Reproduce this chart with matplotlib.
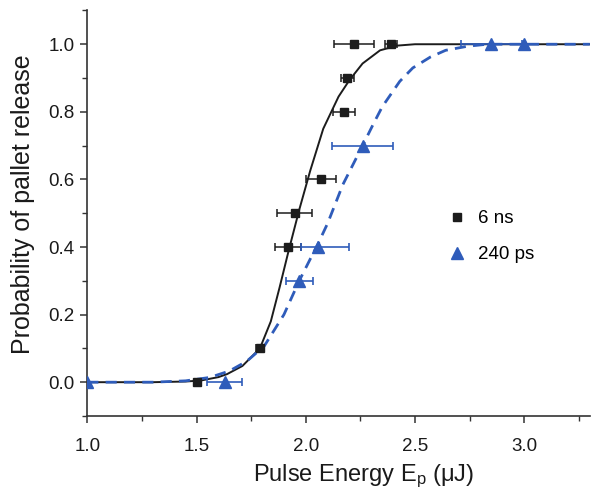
import matplotlib
matplotlib.use("Agg")
import matplotlib.pyplot as plt
from matplotlib.lines import Line2D
from matplotlib.ticker import MultipleLocator

plt.rcParams['font.family'] = ['Liberation Sans', 'DejaVu Sans']
plt.rcParams['mathtext.fontset'] = 'custom'
plt.rcParams['mathtext.rm'] = 'Liberation Sans'
plt.rcParams['mathtext.default'] = 'regular'

# ---- data: 6 ns pulses (squares) ----
ns_energy = [1.50, 1.79, 1.92, 1.95, 2.07, 2.175, 2.19, 2.22, 2.39]
ns_prob   = [0.0, 0.1, 0.4, 0.5, 0.6, 0.8, 0.9, 1.0, 1.0]
ns_err    = [0.0, 0.02, 0.06, 0.08, 0.07, 0.05, 0.03, 0.09, 0.027]

# ---- data: 240 ps pulses (triangles) ----
ps_energy = [1.00, 1.63, 1.97, 2.056, 2.26, 2.85, 3.00]
ps_prob   = [0.0, 0.0, 0.3, 0.4, 0.7, 1.0, 1.0]
ps_err_lo = [0.0, 0.08, 0.062, 0.076, 0.14, 0.14, 0.0]
ps_err_hi = [0.0, 0.08, 0.062, 0.142, 0.14, 0.14, 0.0]

# ---- fitted curves ----
fit_ns_energy = [1.00, 1.30, 1.45, 1.52, 1.60, 1.64, 1.71, 1.79, 1.84, 1.88,
                 1.92, 1.97, 2.02, 2.08, 2.15, 2.20, 2.26, 2.34, 2.42, 2.50, 2.70, 3.30]
fit_ns_prob   = [0.0, 0.0, 0.002, 0.005, 0.015, 0.024, 0.048, 0.10, 0.18, 0.28,
                 0.385, 0.51, 0.625, 0.75, 0.845, 0.894, 0.943, 0.982, 0.996, 1.0, 1.0, 1.0]

fit_ps_energy = [1.00, 1.30, 1.45, 1.56, 1.65, 1.73, 1.81, 1.90, 1.97, 2.06, 2.10,
                 2.17, 2.26, 2.31, 2.35, 2.43, 2.49, 2.57, 2.64, 2.74, 2.83, 3.30]
fit_ps_prob   = [0.0, 0.0, 0.004, 0.014, 0.033, 0.062, 0.107, 0.20, 0.30, 0.415, 0.47,
                 0.585, 0.70, 0.765, 0.815, 0.89, 0.93, 0.962, 0.982, 0.994, 1.0, 1.0]

labels = ['6 ns', '240 ps']
black = '#1c1c1c'
blue = '#2f5cba'

fig = plt.figure(figsize=(6.0, 4.97), dpi=100)
ax = fig.add_axes([0.1455, 0.163, 0.983 - 0.1455, 0.979 - 0.163])

ax.plot(fit_ns_energy, fit_ns_prob, color=black, lw=1.4, zorder=2)
ax.plot(fit_ps_energy, fit_ps_prob, color=blue, lw=2.0, ls=(0, (4, 2.6)), zorder=2)

ax.errorbar(ns_energy, ns_prob, xerr=ns_err, fmt='s', color=black, ms=6,
            ecolor=black, elinewidth=1.1, capsize=3, capthick=1.1, zorder=3)
ax.errorbar(ps_energy, ps_prob, xerr=[ps_err_lo, ps_err_hi], fmt='^', color=blue,
            ms=9, ecolor=blue, elinewidth=1.2, capsize=3, capthick=1.2, zorder=3)

ax.set_xlim(1.0, 3.3)
ax.set_ylim(-0.1, 1.1)
ax.xaxis.set_minor_locator(MultipleLocator(0.25))
ax.yaxis.set_minor_locator(MultipleLocator(0.1))
ax.set_yticks([0.0, 0.2, 0.4, 0.6, 0.8, 1.0])
ax.set_yticklabels(['0.0', '0.2', '0.4', '0.6', '0.8', '1.0'])
ax.set_xticks([1.0, 1.5, 2.0, 2.5, 3.0])
ax.set_xticklabels(['1.0', '1.5', '2.0', '2.5', '3.0'])

for s in ['top', 'right']:
    ax.spines[s].set_visible(False)
for s in ['left', 'bottom']:
    ax.spines[s].set_color('#333333')
    ax.spines[s].set_linewidth(1.2)

ax.tick_params(which='major', direction='out', length=5, width=1.1,
               labelsize=13.5, colors='#333333', labelcolor='#1a1a1a')
ax.tick_params(axis='x', which='major', pad=11)
ax.tick_params(axis='y', which='major', pad=4)
ax.tick_params(which='minor', direction='out', length=3.5, width=1.0, colors='#333333')

ax.set_xlabel(r'Pulse Energy E$_{\mathregular{p}}$ (μJ)', fontsize=17, labelpad=5, color='#1a1a1a')
ax.set_ylabel('Probability of pallet release', fontsize=18, labelpad=9.5, color='#1a1a1a')
ax.xaxis.label.set_x(0.55)
ax.yaxis.label.set_y(0.522)

handles = [Line2D([], [], marker='s', ls='none', color=black, ms=6),
           Line2D([], [], marker='^', ls='none', color=blue, ms=9)]
fig.legend(handles, labels, loc='center left', bbox_to_anchor=(448 / 600, 0.524),
           frameon=False, fontsize=13.5, handlelength=1.0, handletextpad=0.6,
           labelspacing=1.0, borderpad=0, borderaxespad=0)

fig.savefig('out.png', dpi=100)
